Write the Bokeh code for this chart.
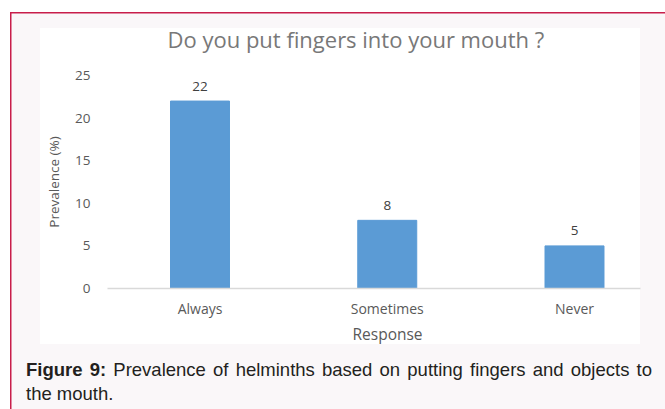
from bokeh.plotting import figure
from bokeh.models import Range1d, FixedTicker, ColumnDataSource, Title, Div
from bokeh.layouts import column
from bokeh.core.properties import value
from bokeh.embed import file_html
from bokeh.resources import INLINE

# ---- data ----
categories = ["Always", "Sometimes", "Never"]
prevalence = [22, 8, 5]
y_ticks = [0, 5, 10, 15, 20, 25]
title_text = "Do you put fingers into your mouth ?"
x_label = "Response"
y_label = "Prevalence (%)"
caption_bold = "Figure 9:"
caption_line1 = "Prevalence of helminths based on putting fingers and objects to"
caption_line2 = "the mouth."

BAR = "#5b9bd5"
TXT = "#595959"
PINK = "#faf7f9"
CRIMSON = "#c81e4b"
FONT = "Open Sans"

positions = list(range(len(categories)))

p = figure(width=665, height=358,
           x_range=Range1d(-0.494, 2.3525), y_range=Range1d(0, 25),
           output_backend="svg", toolbar_location=None,
           min_border_left=107, min_border_right=25,
           min_border_top=75, min_border_bottom=70)
p.outline_line_color = None
p.border_fill_color = None
p.background_fill_color = None
p.xgrid.visible = False
p.ygrid.visible = False

src = ColumnDataSource(dict(x=positions, val=prevalence,
                            lab=[str(v) for v in prevalence]))
p.vbar(x="x", top="val", width=0.315, source=src,
       fill_color=BAR, line_color=BAR)
p.text(x="x", y="val", text="lab", source=src,
       text_align="center", text_baseline="alphabetic", y_offset=-15,
       text_font=value(FONT), text_font_size="13.5px", text_color="#404040")

# title
p.title.text = title_text
p.title.align = "left"
p.title.offset = 60
p.title.standoff = 43
p.title.text_font = FONT
p.title.text_font_size = "22px"
p.title.text_font_style = "normal"
p.title.text_color = "#787878"

# axes
xa = p.xaxis[0]
xa.ticker = FixedTicker(ticks=positions)
xa.major_label_overrides = {i: c for i, c in zip(positions, categories)}
xa.axis_line_color = "#d9d9d9"
xa.axis_line_width = 1.5
xa.major_tick_line_color = None
xa.minor_tick_line_color = None
xa.major_tick_in = 0
xa.major_tick_out = 0
xa.major_label_text_font = FONT
xa.major_label_text_font_size = "14px"
xa.major_label_text_color = TXT
xa.major_label_standoff = 10

p.add_layout(Title(text=x_label, align="left", offset=245, standoff=0,
                   text_font=FONT, text_font_size="15.5px",
                   text_font_style="normal", text_color=TXT), "below")

ya = p.yaxis[0]
ya.ticker = FixedTicker(ticks=y_ticks)
ya.axis_line_color = None
ya.major_tick_line_color = None
ya.minor_tick_line_color = None
ya.major_tick_in = 0
ya.major_tick_out = 0
ya.major_label_text_font = FONT
ya.major_label_text_font_size = "13.5px"
ya.major_label_text_color = TXT
ya.major_label_standoff = 17
ya.axis_label = y_label
ya.axis_label_text_font = FONT
ya.axis_label_text_font_size = "13.5px"
ya.axis_label_text_font_style = "normal"
ya.axis_label_text_color = TXT
ya.axis_label_standoff = 9

# caption
cap_style = ("font-family:'Liberation Sans',Arial,sans-serif;font-size:18.5px;"
             "line-height:23.5px;color:#231f20;margin:0;padding:0;width:626px;")
cap_html = (f'<div style="{cap_style}text-align:justify;text-align-last:justify;">'
            f'<b>{caption_bold}</b> {caption_line1}</div>'
            f'<div style="{cap_style}text-align:left;">{caption_line2}</div>')
cap = Div(text=cap_html, width=626, height=50, margin=(0, 0, 0, 26))

bg = ("linear-gradient(#ffffff,#ffffff) 40px 28px / 600px 316px no-repeat, "
      f"linear-gradient({CRIMSON},{CRIMSON}) 10px 12px / 655px 1.5px no-repeat, "
      f"linear-gradient({CRIMSON},{CRIMSON}) 10px 12px / 1.5px 397px no-repeat, "
      f"linear-gradient({PINK},{PINK}) 10px 12px / 655px 397px no-repeat, #ffffff")

root = column(p, cap, width=665, height=409, spacing=0,
              styles={"background": bg, "overflow": "hidden"})

open("out.html", "w").write(file_html(root, INLINE))
